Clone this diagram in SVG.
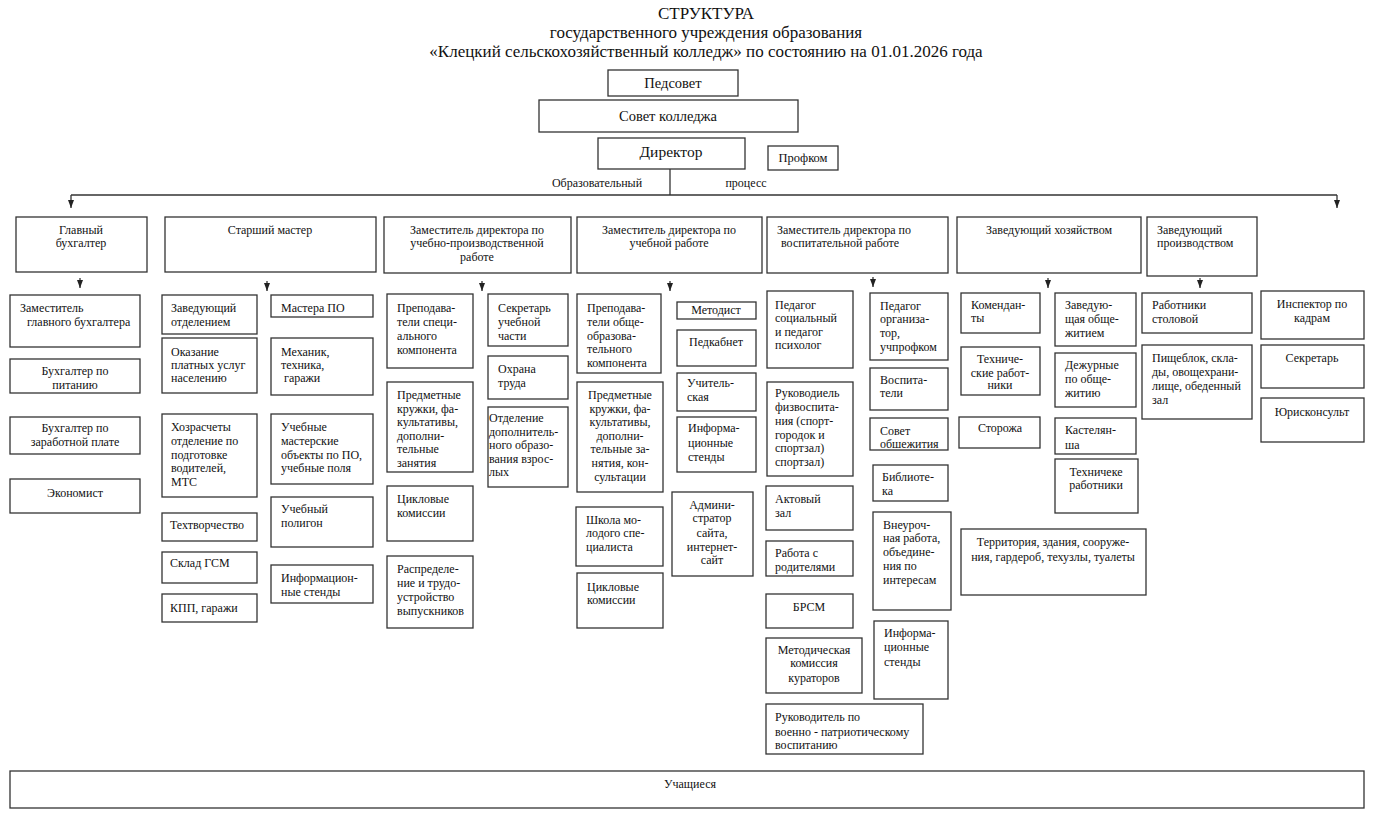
<svg xmlns="http://www.w3.org/2000/svg" width="1383" height="820" viewBox="0 0 1383 820">
<style>
.box{fill:#fff;stroke:#333;stroke-width:1.3}
.t{font-family:"Liberation Serif","DejaVu Serif",serif;font-size:12px;fill:#111}
.c{text-anchor:middle}
.h{font-family:"Liberation Serif","DejaVu Serif",serif;font-size:17px;fill:#111;text-anchor:middle}
.m{font-family:"Liberation Serif","DejaVu Serif",serif;font-size:14.5px;fill:#111;text-anchor:middle}
.ln{stroke:#333;stroke-width:1.3;fill:none}
</style>
<defs>
<marker id="ar" viewBox="0 0 8 6" refX="8" refY="3" markerWidth="8" markerHeight="6" markerUnits="userSpaceOnUse" orient="auto">
<path d="M0,0 L8,3 L0,6 Z" fill="#222"/>
</marker>
</defs>
<rect width="1383" height="820" fill="#fff"/>
<g id="title">
<text class="h" x="706" y="19">СТРУКТУРА</text>
<text class="h" x="706" y="38">государственного учреждения образования</text>
<text class="h" x="706" y="57">«Клецкий сельскохозяйственный колледж» по состоянию на 01.01.2026 года</text>
</g>
<g id="connectors">
<line class="ln" x1="670" y1="169" x2="670" y2="195"/>
<line class="ln" x1="71" y1="195" x2="1337" y2="195"/>
<line class="ln" x1="71" y1="195" x2="71" y2="208" marker-end="url(#ar)"/>
<line class="ln" x1="1337" y1="195" x2="1337" y2="208" marker-end="url(#ar)"/>
<line class="ln" x1="80" y1="278" x2="80" y2="288" marker-end="url(#ar)"/>
<line class="ln" x1="267" y1="281" x2="267" y2="291" marker-end="url(#ar)"/>
<line class="ln" x1="482" y1="281" x2="482" y2="291" marker-end="url(#ar)"/>
<line class="ln" x1="670" y1="281" x2="670" y2="291" marker-end="url(#ar)"/>
<line class="ln" x1="873" y1="277" x2="873" y2="287" marker-end="url(#ar)"/>
<line class="ln" x1="1048" y1="278" x2="1048" y2="288" marker-end="url(#ar)"/>
<line class="ln" x1="1200" y1="278" x2="1200" y2="288" marker-end="url(#ar)"/>
<text class="t" x="597" y="187" text-anchor="middle">Образовательный</text>
<text class="t" x="746" y="187" text-anchor="middle">процесс</text>
</g>
<g id="pedsovet"><rect class="box" x="608" y="70" width="130" height="26"/><text class="m" x="673" y="88">Педсовет</text></g>
<g id="sovet"><rect class="box" x="539" y="100" width="259" height="32"/><text class="m" x="668" y="121">Совет колледжа</text></g>
<g id="director"><rect class="box" x="598" y="138" width="147" height="31"/><text class="m" x="671" y="157" style="font-size:15.5px">Директор</text></g>
<g id="profkom"><rect class="box" x="768" y="146" width="70" height="24"/><text class="t c" x="803" y="162" style="font-size:12.5px">Профком</text></g>

<g id="gl-buh"><rect class="box" x="16" y="217" width="131" height="55"/><text class="t c"><tspan x="81" y="234">Главный</tspan><tspan x="81" y="247">бухгалтер</tspan></text></g>
<g id="st-master"><rect class="box" x="165" y="217" width="211" height="55"/><text class="t c" x="270" y="234">Старший мастер</text></g>
<g id="zam-upr"><rect class="box" x="384" y="217" width="187" height="56"/><text class="t c"><tspan x="477" y="234">Заместитель директора по</tspan><tspan x="477" y="247">учебно-производственной</tspan><tspan x="477" y="261">работе</tspan></text></g>
<g id="zam-ur"><rect class="box" x="577" y="217" width="185" height="56"/><text class="t c"><tspan x="669" y="234">Заместитель директора по</tspan><tspan x="669" y="247">учебной работе</tspan></text></g>
<g id="zam-vr"><rect class="box" x="767" y="217" width="181" height="56"/><text class="t"><tspan x="777" y="234">Заместитель директора по</tspan><tspan x="781" y="247">воспитательной работе</tspan></text></g>
<g id="zav-hoz"><rect class="box" x="957" y="217" width="184" height="56"/><text class="t c" x="1049" y="234">Заведующий хозяйством</text></g>
<g id="zav-pr"><rect class="box" x="1147" y="217" width="110" height="59"/><text class="t"><tspan x="1157" y="234">Заведующий</tspan><tspan x="1157" y="247">производством</tspan></text></g>

<g id="zam-gl-buh"><rect class="box" x="10" y="295" width="130" height="52"/><text class="t"><tspan x="20" y="312">Заместитель</tspan><tspan x="27" y="326">главного бухгалтера</tspan></text></g>
<g id="buh-pit"><rect class="box" x="10" y="359" width="130" height="34"/><text class="t c"><tspan x="75" y="375">Бухгалтер по</tspan><tspan x="75" y="389">питанию</tspan></text></g>
<g id="buh-zp"><rect class="box" x="10" y="417" width="130" height="37"/><text class="t c"><tspan x="75" y="432">Бухгалтер по</tspan><tspan x="75" y="446">заработной плате</tspan></text></g>
<g id="ekonomist"><rect class="box" x="10" y="479" width="130" height="34"/><text class="t c" x="75" y="497">Экономист</text></g>

<g id="zav-otd"><rect class="box" x="162" y="295" width="95" height="39"/><text class="t"><tspan x="171" y="312">Заведующий</tspan><tspan x="171" y="326">отделением</tspan></text></g>
<g id="okaz"><rect class="box" x="162" y="338" width="95" height="55"/><text class="t"><tspan x="171" y="356">Оказание</tspan><tspan x="171" y="369">платных услуг</tspan><tspan x="171" y="382">населению</tspan></text></g>
<g id="hozr"><rect class="box" x="162" y="414" width="95" height="83"/><text class="t"><tspan x="171" y="431">Хозрасчеты</tspan><tspan x="171" y="445">отделение по</tspan><tspan x="171" y="459">подготовке</tspan><tspan x="171" y="472">водителей,</tspan><tspan x="171" y="486">МТС</tspan></text></g>
<g id="tehtv"><rect class="box" x="162" y="513" width="95" height="28"/><text class="t" x="170" y="529">Техтворчество</text></g>
<g id="sklad"><rect class="box" x="162" y="552" width="95" height="31"/><text class="t" x="170" y="567">Склад ГСМ</text></g>
<g id="kpp"><rect class="box" x="162" y="594" width="95" height="28"/><text class="t" x="170" y="612">КПП, гаражи</text></g>

<g id="mastera"><rect class="box" x="271" y="295" width="102" height="22"/><text class="t" x="281" y="312">Мастера ПО</text></g>
<g id="mehanik"><rect class="box" x="271" y="338" width="102" height="57"/><text class="t"><tspan x="281" y="356">Механик,</tspan><tspan x="281" y="369">техника,</tspan><tspan x="284" y="382">гаражи</tspan></text></g>
<g id="uch-mast"><rect class="box" x="271" y="414" width="102" height="70"/><text class="t"><tspan x="281" y="431">Учебные</tspan><tspan x="281" y="445">мастерские</tspan><tspan x="281" y="459">объекты по ПО,</tspan><tspan x="281" y="472">учебные поля</tspan></text></g>
<g id="poligon"><rect class="box" x="271" y="497" width="102" height="50"/><text class="t"><tspan x="281" y="513">Учебный</tspan><tspan x="281" y="527">полигон</tspan></text></g>
<g id="info1"><rect class="box" x="271" y="565" width="102" height="38"/><text class="t"><tspan x="281" y="582">Информацион-</tspan><tspan x="281" y="596">ные стенды</tspan></text></g>

<g id="prep-spec"><rect class="box" x="387" y="294" width="86" height="74"/><text class="t"><tspan x="397" y="312">Преподава-</tspan><tspan x="397" y="326">тели специ-</tspan><tspan x="397" y="340">ального</tspan><tspan x="397" y="354">компонента</tspan></text></g>
<g id="kruzhki1"><rect class="box" x="387" y="382" width="86" height="90"/><text class="t"><tspan x="397" y="399">Предметные</tspan><tspan x="397" y="413">кружки, фа-</tspan><tspan x="397" y="426">культативы,</tspan><tspan x="397" y="440">дополни-</tspan><tspan x="397" y="453">тельные</tspan><tspan x="397" y="467">занятия</tspan></text></g>
<g id="cikl1"><rect class="box" x="387" y="486" width="86" height="55"/><text class="t"><tspan x="397" y="503">Цикловые</tspan><tspan x="397" y="517">комиссии</tspan></text></g>
<g id="raspr"><rect class="box" x="387" y="556" width="86" height="72"/><text class="t"><tspan x="397" y="573">Распределе-</tspan><tspan x="397" y="587">ние и трудо-</tspan><tspan x="397" y="601">устройство</tspan><tspan x="397" y="615">выпускников</tspan></text></g>
<g id="sekr-uch"><rect class="box" x="488" y="294" width="80" height="52"/><text class="t"><tspan x="498" y="312">Секретарь</tspan><tspan x="498" y="326">учебной</tspan><tspan x="498" y="340">части</tspan></text></g>
<g id="ohrana"><rect class="box" x="488" y="356" width="80" height="43"/><text class="t"><tspan x="498" y="373">Охрана</tspan><tspan x="498" y="387">труда</tspan></text></g>
<g id="otd-dop"><rect class="box" x="488" y="407" width="80" height="80"/><text class="t"><tspan x="489" y="422">Отделение</tspan><tspan x="489" y="436">дополнитель-</tspan><tspan x="489" y="449">ного образо-</tspan><tspan x="489" y="463">вания взрос-</tspan><tspan x="489" y="476">лых</tspan></text></g>

<g id="prep-obsh"><rect class="box" x="577" y="294" width="84" height="79"/><text class="t"><tspan x="587" y="312">Преподава-</tspan><tspan x="587" y="326">тели обще-</tspan><tspan x="587" y="340">образова-</tspan><tspan x="587" y="353">тельного</tspan><tspan x="587" y="367">компонента</tspan></text></g>
<g id="kruzhki2"><rect class="box" x="577" y="382" width="86" height="110"/><text class="t c"><tspan x="620" y="399">Предметные</tspan><tspan x="620" y="413">кружки, фа-</tspan><tspan x="620" y="426">культативы,</tspan><tspan x="620" y="440">дополни-</tspan><tspan x="620" y="453">тельные за-</tspan><tspan x="620" y="467">нятия, кон-</tspan><tspan x="620" y="481">сультации</tspan></text></g>
<g id="shkola"><rect class="box" x="576" y="507" width="87" height="59"/><text class="t"><tspan x="586" y="524">Школа мо-</tspan><tspan x="586" y="537">лодого спе-</tspan><tspan x="586" y="551">циалиста</tspan></text></g>
<g id="cikl2"><rect class="box" x="577" y="573" width="86" height="55"/><text class="t"><tspan x="587" y="591">Цикловые</tspan><tspan x="587" y="604">комиссии</tspan></text></g>
<g id="metodist"><rect class="box" x="677" y="302" width="79" height="17"/><text class="t c" x="716" y="314">Методист</text></g>
<g id="pedkab"><rect class="box" x="677" y="330" width="79" height="36"/><text class="t c" x="716" y="346">Педкабнет</text></g>
<g id="uchit"><rect class="box" x="677" y="373" width="79" height="38"/><text class="t"><tspan x="687" y="387">Учитель-</tspan><tspan x="687" y="401">ская</tspan></text></g>
<g id="info2"><rect class="box" x="677" y="417" width="79" height="55"/><text class="t"><tspan x="688" y="432">Информа-</tspan><tspan x="688" y="447">ционные</tspan><tspan x="688" y="461">стенды</tspan></text></g>
<g id="admin"><rect class="box" x="672" y="492" width="81" height="84"/><text class="t c"><tspan x="712" y="509">Админи-</tspan><tspan x="712" y="522">стратор</tspan><tspan x="712" y="537">сайта,</tspan><tspan x="712" y="551">интернет-</tspan><tspan x="712" y="564">сайт</tspan></text></g>

<g id="ped-soc"><rect class="box" x="767" y="291" width="86" height="77"/><text class="t"><tspan x="775" y="309">Педагог</tspan><tspan x="775" y="322">социальный</tspan><tspan x="775" y="336">и педагог</tspan><tspan x="775" y="349">психолог</tspan></text></g>
<g id="fizvos"><rect class="box" x="767" y="382" width="86" height="94"/><text class="t"><tspan x="775" y="397">Руководиель</tspan><tspan x="775" y="411">физвоспита-</tspan><tspan x="775" y="425">ния (спорт-</tspan><tspan x="775" y="439">городок  и</tspan><tspan x="775" y="452">спортзал)</tspan><tspan x="775" y="466">спортзал)</tspan></text></g>
<g id="akt"><rect class="box" x="766" y="486" width="87" height="44"/><text class="t"><tspan x="775" y="503">Актовый</tspan><tspan x="775" y="517">зал</tspan></text></g>
<g id="rodit"><rect class="box" x="766" y="541" width="87" height="35"/><text class="t"><tspan x="775" y="557">Работа с</tspan><tspan x="775" y="571">родителями</tspan></text></g>
<g id="brsm"><rect class="box" x="766" y="594" width="87" height="34"/><text class="t c" x="809" y="611">БРСМ</text></g>
<g id="metkom"><rect class="box" x="766" y="638" width="96" height="55"/><text class="t c"><tspan x="814" y="654">Методическая</tspan><tspan x="814" y="667">комиссия</tspan><tspan x="814" y="682">кураторов</tspan></text></g>
<g id="voen"><rect class="box" x="766" y="704" width="157" height="50"/><text class="t"><tspan x="775" y="721">Руководитель по</tspan><tspan x="775" y="736">военно - патриотическому</tspan><tspan x="775" y="749">воспитанию</tspan></text></g>
<g id="ped-org"><rect class="box" x="870" y="293" width="78" height="67"/><text class="t"><tspan x="880" y="310">Педагог</tspan><tspan x="880" y="323">организа-</tspan><tspan x="880" y="337">тор,</tspan><tspan x="880" y="351">учпрофком</tspan></text></g>
<g id="vospit"><rect class="box" x="870" y="368" width="78" height="42"/><text class="t"><tspan x="880" y="384">Воспита-</tspan><tspan x="880" y="397">тели</tspan></text></g>
<g id="sovet-obsh"><rect class="box" x="870" y="418" width="78" height="32"/><text class="t"><tspan x="880" y="435">Совет</tspan><tspan x="880" y="448">обшежития</tspan></text></g>
<g id="biblio"><rect class="box" x="873" y="465" width="75" height="36"/><text class="t"><tspan x="882" y="481">Библиоте-</tspan><tspan x="882" y="495">ка</tspan></text></g>
<g id="vneur"><rect class="box" x="873" y="512" width="78" height="98"/><text class="t"><tspan x="883" y="529">Внеуроч-</tspan><tspan x="883" y="542">ная работа,</tspan><tspan x="883" y="556">объедине-</tspan><tspan x="883" y="570">ния по</tspan><tspan x="883" y="584">интересам</tspan></text></g>
<g id="info3"><rect class="box" x="874" y="621" width="74" height="78"/><text class="t"><tspan x="884" y="637">Информа-</tspan><tspan x="884" y="651">ционные</tspan><tspan x="884" y="666">стенды</tspan></text></g>

<g id="koment"><rect class="box" x="961" y="293" width="79" height="40"/><text class="t"><tspan x="971" y="309">Комендан-</tspan><tspan x="971" y="322">ты</tspan></text></g>
<g id="tehrab1"><rect class="box" x="961" y="347" width="79" height="48"/><text class="t c"><tspan x="1000" y="363">Техниче-</tspan><tspan x="1000" y="377">ские работ-</tspan><tspan x="1000" y="389">ники</tspan></text></g>
<g id="storozha"><rect class="box" x="959" y="417" width="81" height="31"/><text class="t c" x="1000" y="432">Сторожа</text></g>
<g id="zav-obsh"><rect class="box" x="1055" y="293" width="81" height="53"/><text class="t"><tspan x="1065" y="309">Заведую-</tspan><tspan x="1065" y="323">щая обще-</tspan><tspan x="1065" y="337">житием</tspan></text></g>
<g id="dezh"><rect class="box" x="1055" y="353" width="81" height="54"/><text class="t"><tspan x="1065" y="369">Дежурные</tspan><tspan x="1065" y="383">по обще-</tspan><tspan x="1065" y="397">житию</tspan></text></g>
<g id="kastel"><rect class="box" x="1055" y="418" width="81" height="36"/><text class="t"><tspan x="1065" y="434">Кастелян-</tspan><tspan x="1065" y="449">ша</tspan></text></g>
<g id="tehrab2"><rect class="box" x="1055" y="459" width="83" height="54"/><text class="t c"><tspan x="1096" y="476">Техничеке</tspan><tspan x="1096" y="489">работники</tspan></text></g>
<g id="territ"><rect class="box" x="961" y="529" width="185" height="66"/><text class="t c"><tspan x="1053" y="546">Территория, здания, сооруже-</tspan><tspan x="1053" y="561">ния, гардероб, техузлы, туалеты</tspan></text></g>

<g id="rab-stol"><rect class="box" x="1142" y="293" width="110" height="40"/><text class="t"><tspan x="1152" y="309">Работники</tspan><tspan x="1152" y="323">столовой</tspan></text></g>
<g id="pisheblok"><rect class="box" x="1142" y="345" width="110" height="74"/><text class="t"><tspan x="1152" y="362">Пищеблок, скла-</tspan><tspan x="1152" y="376">ды, овощехрани-</tspan><tspan x="1152" y="390">лище, обеденный</tspan><tspan x="1152" y="404">зал</tspan></text></g>

<g id="inspektor"><rect class="box" x="1261" y="291" width="103" height="48"/><text class="t c"><tspan x="1312" y="308">Инспектор по</tspan><tspan x="1312" y="322">кадрам</tspan></text></g>
<g id="sekretar"><rect class="box" x="1261" y="345" width="103" height="43"/><text class="t c" x="1312" y="362">Секретарь</text></g>
<g id="yurist"><rect class="box" x="1261" y="398" width="103" height="44"/><text class="t c" x="1312" y="416">Юрисконсульт</text></g>

<g id="uchashiesya"><rect class="box" x="10" y="771" width="1354" height="37"/><text class="t c" x="690" y="788">Учащиеся</text></g>
</svg>
